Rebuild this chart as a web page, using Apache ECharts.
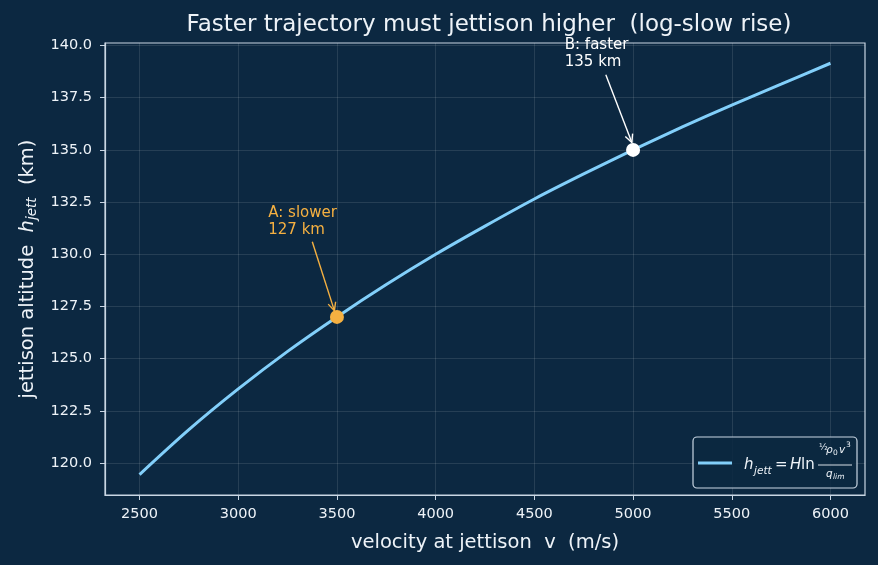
<!DOCTYPE html>
<html><head><meta charset="utf-8">
<script src="https://cdn.jsdelivr.net/npm/echarts@6/dist/echarts.min.js"></script>
<style>html,body{margin:0;padding:0;background:#0c2841}#c{width:878px;height:565px}</style>
</head><body><div id="c"></div>
<script>
const velocity = [2500, 2750, 3000, 3250, 3500, 3750, 4000, 4250, 4500, 4750, 5000, 5250, 5500, 5750, 6000];
const altitude = [119.45, 121.6, 123.55, 125.35, 127.0, 128.55, 130.0, 131.35, 132.65, 133.85, 135.0, 136.1, 137.15, 138.15, 139.15];
const pointA = [3500, 127.0];
const pointB = [5000, 135.0];
const labelA = 'A: slower\n127 km';
const labelB = 'B: faster\n135 km';
const xTicks = [2500, 3000, 3500, 4000, 4500, 5000, 5500, 6000];
const yTicks = [120, 122.5, 125, 127.5, 130, 132.5, 135, 137.5, 140];

const BG = '#0c2841';
const FRAME = '#c9d6e3';
const TXT = '#eef3f8';
const LINE = '#82cffa';
const ORANGE = '#f5b041';
const FONT = 'DejaVu Sans';

const chart = echarts.init(document.getElementById('c'), null, {renderer: 'canvas'});

const axisCommon = {
  type: 'value',
  axisLine: {show: true, onZero: false, lineStyle: {color: FRAME, width: 1.2}},
  axisTick: {show: true, length: 5, lineStyle: {color: FRAME, width: 1}},
  splitLine: {show: true, lineStyle: {color: 'rgba(255,255,255,0.16)', width: 0.7}},
  axisLabel: {color: TXT, fontSize: 14.5, fontFamily: FONT}
};

chart.setOption({
  backgroundColor: BG,
  animation: false,
  title: {
    text: 'Faster trajectory must jettison higher  (log-slow rise)',
    left: 484, top: 9, textAlign: 'center',
    textStyle: {color: TXT, fontSize: 23, fontWeight: 'normal', fontFamily: FONT}
  },
  grid: {left: 105, right: 13, top: 43, bottom: 70, show: true, borderColor: FRAME, borderWidth: 1.2, backgroundColor: 'transparent'},
  xAxis: Object.assign({}, axisCommon, {
    min: 2325, max: 6175,
    axisTick: Object.assign({}, axisCommon.axisTick, {customValues: xTicks}),
    axisLabel: Object.assign({}, axisCommon.axisLabel, {customValues: xTicks, margin: 12, formatter: v => String(v)}),
    name: 'velocity at jettison  v  (m/s)', nameLocation: 'middle', nameGap: 38,
    nameTextStyle: {color: TXT, fontSize: 19.5, fontFamily: FONT}
  }),
  yAxis: Object.assign({}, axisCommon, {
    min: 118.47, max: 140.12,
    axisTick: Object.assign({}, axisCommon.axisTick, {customValues: yTicks}),
    axisLabel: Object.assign({}, axisCommon.axisLabel, {customValues: yTicks, margin: 13, formatter: v => v.toFixed(1)}),
    name: '{n|jettison altitude  }{i|h}{s|jett}{n|  (km)}', nameLocation: 'middle', nameGap: 66, nameRotate: 90,
    nameTextStyle: {color: TXT, fontSize: 19.5, fontFamily: FONT,
      rich: {
        n: {color: TXT, fontSize: 19.5, fontFamily: FONT},
        i: {color: TXT, fontSize: 19.5, fontFamily: FONT, fontStyle: 'italic'},
        s: {color: TXT, fontSize: 13.5, fontFamily: FONT, fontStyle: 'italic', verticalAlign: 'bottom', padding: [8, 0, 0, 0]}
      }}
  }),
  series: [
    {
      type: 'line', data: velocity.map((v, i) => [v, altitude[i]]),
      showSymbol: false, smooth: 0.3, lineStyle: {color: LINE, width: 3}, z: 2
    },
    {
      type: 'scatter', data: [pointA], symbolSize: 14, itemStyle: {color: ORANGE, opacity: 1}, z: 4
    },
    {
      type: 'scatter', data: [pointB], symbolSize: 14, itemStyle: {color: '#ffffff', opacity: 1}, z: 4
    }
  ]
});

function px(p) { return chart.convertToPixel({gridIndex: 0}, p); }

function arrow(from, to, color) {
  const a = px(from), b = px(to);
  const ang = Math.atan2(b[1] - a[1], b[0] - a[0]);
  const L = 9, w = 0.45;
  const h1 = [b[0] - L * Math.cos(ang - w), b[1] - L * Math.sin(ang - w)];
  const h2 = [b[0] - L * Math.cos(ang + w), b[1] - L * Math.sin(ang + w)];
  return [
    {type: 'line', shape: {x1: a[0], y1: a[1], x2: b[0], y2: b[1]}, style: {stroke: color, lineWidth: 1.4}, z: 10},
    {type: 'polyline', shape: {points: [h1, b, h2]}, style: {stroke: color, lineWidth: 1.4, fill: null}, z: 10}
  ];
}

const tA = px([3152, 132.37]);
const tB = px([4654, 140.43]);

const gx = 693, gy = 437;
const f = (s, sz) => `${s} ${sz}px "DejaVu Sans"`;
const t = (x, y, text, font) => ({type: 'text', x: x, y: y, z: 21, style: {text: text, fill: TXT, font: font, verticalAlign: 'middle'}});
chart.setOption({
  graphic: [
    ...arrow([3375, 130.6], [3487, 127.3], ORANGE),
    ...arrow([4862, 138.6], [4994, 135.35], '#ffffff'),
    {type: 'text', x: tA[0], y: tA[1], z: 10, style: {text: labelA, fill: ORANGE, font: f('', 15), lineHeight: 17}},
    {type: 'text', x: tB[0], y: tB[1], z: 10, style: {text: labelB, fill: '#ffffff', font: f('', 15), lineHeight: 17}},
    {type: 'rect', shape: {x: gx, y: gy, width: 164, height: 51, r: 4}, style: {fill: 'rgba(12,40,65,0.85)', stroke: FRAME, lineWidth: 1.2}, z: 20},
    {type: 'line', shape: {x1: gx + 5, y1: gy + 26, x2: gx + 39, y2: gy + 26}, style: {stroke: LINE, lineWidth: 3}, z: 21},
    t(gx + 51, 465, 'h', f('italic', 15)),
    t(gx + 61, 471, 'jett', f('italic', 10.5)),
    t(gx + 82, 465, '=', f('', 15)),
    t(gx + 97, 465, 'H', f('italic', 15)),
    t(gx + 108, 465, 'ln', f('', 15)),
    t(gx + 126, 448, '½', f('', 9)),
    t(gx + 133, 450, 'ρ', f('italic', 10.5)),
    t(gx + 140, 453, '0', f('', 7.5)),
    t(gx + 146, 450, 'v', f('italic', 10.5)),
    t(gx + 153, 445, '3', f('', 7.5)),
    {type: 'line', shape: {x1: gx + 125, y1: 465, x2: gx + 159, y2: 465}, style: {stroke: TXT, lineWidth: 0.9}, z: 21},
    t(gx + 133, 474, 'q', f('italic', 10.5)),
    t(gx + 140, 477, 'lim', f('italic', 7.5))
  ]
});
</script>
</body></html>
